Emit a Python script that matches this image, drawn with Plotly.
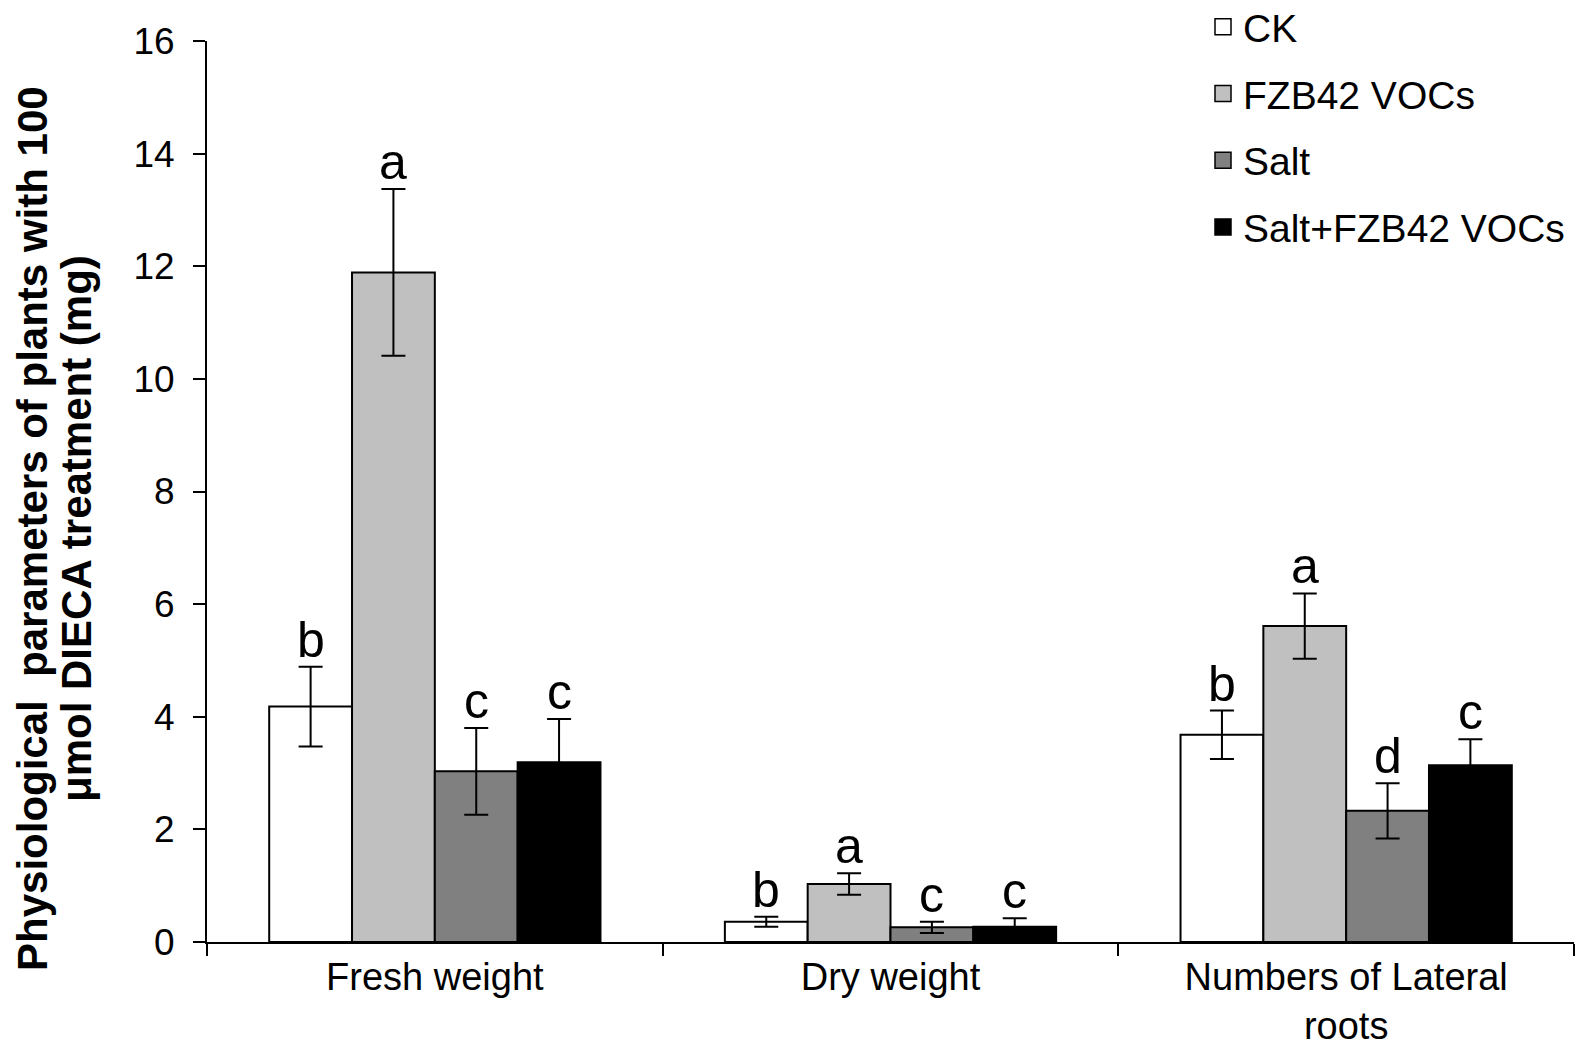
import plotly.graph_objects as go

# categories and values
categories = ["Fresh weight", "Dry weight", "Numbers of Lateral<br>roots"]
series_names = ["CK", "FZB42 VOCs", "Salt", "Salt+FZB42 VOCs"]

ck = [4.18, 0.36, 3.68]
ck_err = [0.71, 0.09, 0.43]
fzb = [11.89, 1.03, 5.61]
fzb_err = [1.48, 0.19, 0.58]
salt = [3.03, 0.26, 2.33]
salt_err = [0.77, 0.10, 0.49]
salt_fzb = [3.19, 0.27, 3.14]
salt_fzb_err = [0.77, 0.15, 0.46]

ck_letters = ["b", "b", "b"]
fzb_letters = ["a", "a", "a"]
salt_letters = ["c", "c", "d"]
salt_fzb_letters = ["c", "c", "c"]

y_ticks = [0, 2, 4, 6, 8, 10, 12, 14, 16]

values = [ck, fzb, salt, salt_fzb]
errors = [ck_err, fzb_err, salt_err, salt_fzb_err]
letters = [ck_letters, fzb_letters, salt_letters, salt_fzb_letters]
colors = ["#ffffff", "#c0c0c0", "#808080", "#000000"]

font = "Arial, Liberation Sans, sans-serif"
bargap = 0.273

W, H = 1584, 1048
ml, mr, mb = 199, 18, 114
plot_top = 33
plot_h = H - mb
plot_w = W - ml - mr
y_dom_top = (plot_h - plot_top) / plot_h

fig = go.Figure()

for name, vals, errs, col in zip(series_names, values, errors, colors):
    fig.add_trace(go.Bar(
        name=name, x=categories, y=vals, showlegend=False,
        marker=dict(color=col, line=dict(color="black", width=2)),
        error_y=dict(type="data", array=errs, visible=True,
                     color="black", thickness=2, width=12),
    ))

# legend proxies (bigger squares than the bar legend symbol)
for i, (name, col) in enumerate(zip(series_names, colors)):
    fig.add_trace(go.Scatter(
        name=name, x=[None], y=[None], mode="markers", legendgroup=str(i),
        marker=dict(symbol="square", size=18, color=col,
                    line=dict(color="black", width=1.5)),
    ))

# significance letters above the error bars
bar_w = (1 - bargap) / len(series_names)
annotations = []
for j, (vals, errs, lets) in enumerate(zip(values, errors, letters)):
    for i in range(len(categories)):
        annotations.append(dict(
            x=i + (j - 1.5) * bar_w, y=vals[i] + errs[i],
            xref="x", yref="y", text=lets[i], showarrow=False,
            yanchor="bottom", yshift=-3,
            font=dict(family=font, size=50, color="black"),
        ))

# y axis title, two lines
title_y = (plot_h - 521) / plot_h
annotations.append(dict(
    x=(24 - ml) / plot_w, y=title_y, xref="paper", yref="paper",
    textangle=-90,
    text="<b>Physiological  parameters of plants with 100</b>",
    showarrow=False, xanchor="center", yanchor="middle",
    font=dict(family=font, size=42, color="black"),
))
annotations.append(dict(
    x=(68 - ml) / plot_w, y=title_y, xref="paper", yref="paper",
    textangle=-90,
    text="<b>\u03bcmol DIECA treatment (mg)</b>",
    showarrow=False, xanchor="center", yanchor="middle",
    font=dict(family=font, size=42, color="black"),
))

fig.update_layout(
    width=W, height=H,
    margin=dict(l=ml, r=mr, t=0, b=mb, autoexpand=False),
    paper_bgcolor="white", plot_bgcolor="white",
    barmode="group", bargap=bargap, bargroupgap=0,
    font=dict(family=font, color="black"),
    showlegend=True,
    legend=dict(
        x=(1195 - ml) / plot_w, y=1 + 13 / plot_h,
        xanchor="left", yanchor="top",
        font=dict(family=font, size=39, color="black"),
        traceorder="grouped", tracegroupgap=13,
        bgcolor="rgba(0,0,0,0)",
    ),
    annotations=annotations,
)

fig.update_xaxes(
    type="category", showline=True, linecolor="black", linewidth=2,
    ticks="outside", tickson="boundaries", ticklen=12, tickwidth=2,
    tickcolor="black", showgrid=False, zeroline=False,
    tickfont=dict(family=font, size=38, color="black"),
    ticklabelstandoff=0,
)
fig.update_yaxes(
    range=[0, 16], tickvals=y_ticks, domain=[0, y_dom_top],
    showline=True, linecolor="black",
    linewidth=2, ticks="outside", ticklen=12, tickwidth=2, tickcolor="black",
    showgrid=False, zeroline=False,
    tickfont=dict(family=font, size=37, color="black"),
    ticklabelstandoff=11,
)

fig.write_html("out.html")
